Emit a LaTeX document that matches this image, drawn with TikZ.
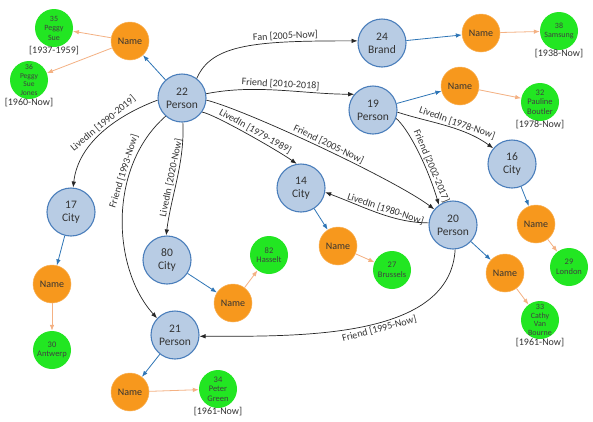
\documentclass[tikz,border=0pt]{standalone}
\usepackage{fontspec}
\setmainfont{Carlito}
\usetikzlibrary{arrows.meta}
\definecolor{bfill}{HTML}{B8CCE4}
\definecolor{bdraw}{HTML}{4A7EBB}
\definecolor{ofill}{HTML}{F7981D}
\definecolor{odraw}{HTML}{F9B25A}
\definecolor{gfill}{HTML}{22E622}
\definecolor{barr}{HTML}{2E75B6}
\definecolor{tarr}{HTML}{F4B183}
\definecolor{txt}{HTML}{333333}
\begin{document}
\begin{tikzpicture}[x=1pt,y=-1pt,
 bnode/.style={circle,fill=bfill,draw=bdraw,line width=1.1pt,minimum size=48pt,inner sep=0pt,align=center,font=\fontsize{11.5}{13}\selectfont,text=txt},
 onode/.style={circle,fill=ofill,draw=odraw,line width=0.5pt,minimum size=38pt,inner sep=0pt,font=\fontsize{10}{12}\selectfont,text=black!80},
 gnode/.style={circle,fill=gfill,minimum size=38pt,inner sep=-6pt,align=center,font=\fontsize{8.5}{9.5}\selectfont,text=black!75},
 datelbl/.style={font=\fontsize{10}{12}\selectfont,text=txt,inner sep=0pt,label distance=-1pt},
 rel/.style={draw=black!85,line width=0.7pt,-{Latex[length=6pt,width=4.5pt]}},
 barrow/.style={draw=barr,line width=0.8pt,-{Latex[length=6pt,width=4.5pt]}},
 tarrow/.style={draw=tarr,line width=0.8pt,-{Latex[length=6pt,width=4.5pt]}},
 elbl/.style={font=\fontsize{10}{12}\selectfont,text=txt,sloped,inner sep=1.5pt}
]
\fill[white] (0,0) rectangle (593,421);
\useasboundingbox (0,0) rectangle (593,421);

% Person / City nodes
\node[bnode] (n22) at (182,98) {22\\Person};
\node[bnode] (n24) at (382,43) {24\\Brand};
\node[bnode] (n19) at (373,110) {19\\Person};
\node[bnode] (n16) at (512,164) {16\\City};
\node[bnode] (n20) at (453,225) {20\\Person};
\node[bnode] (n14) at (301,188) {14\\City};
\node[bnode] (n17) at (71,212) {17\\City};
\node[bnode] (n80) at (167,260) {80\\City};
\node[bnode] (n21) at (175,335) {21\\Person};

% Name nodes
\node[onode] (nm22) at (130,41) {Name};
\node[onode] (nm24) at (481,33) {Name};
\node[onode] (nm19) at (460,86) {Name};
\node[onode] (nm16) at (536,224) {Name};
\node[onode] (nm20) at (505,273) {Name};
\node[onode] (nm14) at (338,246) {Name};
\node[onode] (nm17) at (52,284) {Name};
\node[onode] (nm80) at (233,303) {Name};
\node[onode] (nm21) at (130,392) {Name};

% value nodes
\node[gnode,font=\fontsize{8}{9.5}\selectfont,label={[datelbl]below:{[1937-1959]}}] (n35) at (54,28) {35\\Peggy\\Sue};
\node[gnode,font=\fontsize{7.5}{8.5}\selectfont,label={[datelbl]below:{[1960-Now]}}] (n36) at (29,80) {36\\Peggy\\Sue\\Jones};
\node[gnode,font=\fontsize{8}{9.5}\selectfont,label={[datelbl]below:{[1938-Now]}}] (n38) at (559,31) {38\\Samsung};
\node[gnode,label={[datelbl]below:{[1978-Now]}}] (n32) at (540,102) {32\\Pauline\\Boutler};
\node[gnode] (n29) at (569,267) {29\\London};
\node[gnode,font=\fontsize{8}{8.7}\selectfont,label={[datelbl]below:{[1961-Now]}}] (n33) at (540,320) {33\\Cathy\\Van\\Bourne};
\node[gnode] (n27) at (392,270) {27\\Brussels};
\node[gnode] (n30) at (52,350) {30\\Antwerp};
\node[gnode] (n82) at (269,255) {82\\Hasselt};
\node[gnode,label={[datelbl]below:{[1961-Now]}}] (n34) at (218,389) {34\\Peter\\Green};

% relationships
\draw[rel] (n22.53) .. controls +(15,-35) and +(-100,0) .. node[elbl,pos=0.72,above]{Fan [2005-Now]} (n24.175);
\draw[rel] (n22.10) .. controls +(50,-10) and +(-50,0) .. node[elbl,pos=0.5,above]{Friend [2010-2018]} (n19.140);
\draw[rel] (n22.-35) .. controls +(12,2) and +(-20,-14) .. node[elbl,pos=0.55,above]{LivedIn [1979-1989]} (n14.100);
\draw[rel] (n22.-5) .. controls +(40,10) and +(-40,-30) .. node[elbl,pos=0.52,above]{Friend [2005-Now]} (n20.140);
\draw[rel] (n19.-5) .. controls +(30,10) and +(-30,-22) .. node[elbl,pos=0.6,above]{LivedIn [1978-Now]} (n16.140);
\draw[rel] (n19.-20) .. controls +(12,10) and +(-12,-40) .. node[elbl,pos=0.68,above]{Friend [2002-2017]} (n20.125);
\draw[rel] (n20.175) .. controls +(-35,0) and +(40,15) .. node[elbl,pos=0.45,above]{LivedIn [1980-Now]} (n14.-10);
\draw[rel] (n20.-85) .. controls +(-5,90) and +(100,0) .. node[elbl,pos=0.45,below]{Friend [1995-Now]} (n21.-3);
\draw[rel] (n22.185) .. controls +(-40,15) and +(5,-45) .. node[elbl,pos=0.45,above]{LivedIn [1990-2019]} (n17.85);
\draw[rel] (n22.228) .. controls +(-58,51) and +(-45,-50) .. node[elbl,pos=0.3,above]{Friend [1993-Now]} (n21.137);
\draw[rel] (n22.-88) .. controls +(2,40) and +(5,-40) .. node[elbl,pos=0.5,above]{LivedIn [2020-Now]} (n80.92);

% name links
\draw[barrow] (n22) -- (nm22);
\draw[barrow] (n24) -- (nm24);
\draw[barrow] (n19) -- (nm19);
\draw[barrow] (n16) -- (nm16);
\draw[barrow] (n20) -- (nm20);
\draw[barrow] (n14) -- (nm14);
\draw[barrow] (n17) -- (nm17);
\draw[barrow] (n80) -- (nm80);
\draw[barrow] (n21) -- (nm21);

% value links
\draw[tarrow] (nm22) -- (n35);
\draw[tarrow] (nm22) -- (n36);
\draw[tarrow] (nm24) -- (n38);
\draw[tarrow] (nm19) -- (n32);
\draw[tarrow] (nm16) -- (n29);
\draw[tarrow] (nm20) -- (n33);
\draw[tarrow] (nm14) -- (n27);
\draw[tarrow] (nm17) -- (n30);
\draw[tarrow] (nm80) -- (n82);
\draw[tarrow] (nm21) -- (n34);
\end{tikzpicture}
\end{document}
